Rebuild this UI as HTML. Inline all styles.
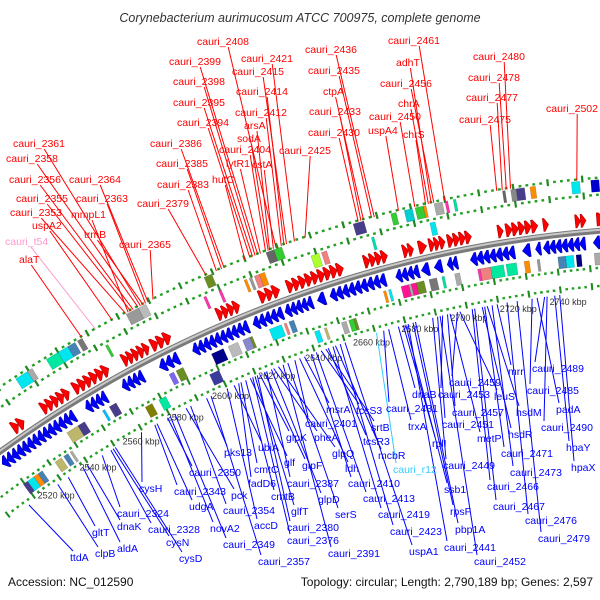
<!DOCTYPE html>
<html><head><meta charset="utf-8"><style>
html,body{margin:0;padding:0;background:#fff}
svg{display:block;font-family:"Liberation Sans",sans-serif}
</style></head><body>
<svg id="map" width="600" height="600" viewBox="0 0 600 600" xmlns="http://www.w3.org/2000/svg">
<rect width="600" height="600" fill="#fff"/>
<text x="300" y="22" text-anchor="middle" font-size="12.5" font-style="italic" fill="#333">Corynebacterium aurimucosum ATCC 700975, complete genome</text>
<text x="8" y="586" font-size="12" fill="#111">Accession: NC_012590</text>
<text x="593" y="586" text-anchor="end" font-size="12" fill="#111">Topology: circular; Length: 2,790,189 bp; Genes: 2,597</text>
<g id="dots"></g><g id="boxes"></g><g id="arrows"></g><g id="backbone"></g><g id="ticks"></g><g id="lines"></g><g id="labels"></g>
</svg>
<script>
const genomeLength = 2790.189;
const tickKbp = [2520,2540,2560,2580,2600,2620,2640,2660,2680,2700,2720,2740];
const fwdSpans = [[2521,2526],[2534,2546],[2548,2563],[2569,2580],[2581,2589],[2608,2617],[2625,2633],[2636,2658],[2666,2675],[2681,2685],[2687,2690],[2691,2697],[2698,2707],[2717,2719],[2720,2732],[2734,2736],[2746,2750],[2754,2757]];
const revSpans = [[2510,2543],[2548,2557],[2564,2573],[2580,2588],[2594,2617],[2619,2631],[2632,2643],[2645,2648],[2650,2672],[2676,2685],[2686,2689],[2691,2694],[2696,2700],[2705,2722],[2725,2728],[2730,2732],[2733,2749],[2752,2757]];
const boxStart = [2515,2518,2532,2537,2545,2550,2554,2558,2566,2578,2583,2606,2609,2612,2622,2624,2626,2628,2633,2636,2648,2652,2666,2671,2680,2685,2689,2692,2693,2696,2700,2703,2721,2724,2726,2731,2746,2753,
 2514,2517,2519,2512,2527,2531,2534,2537,2542,2553,2556,2568,2574,2582,2585,2596,2600,2607,2613,2616,2624,2630,2632,2640,2644,2651,2654,2656,2670,2672,2677,2680,2681,2683,2688,2693,2698,2707,2708,2712,2718,2725,2730,2738,2741,2745,2752];
const boxEnd = [2518,2519,2537,2539,2550,2554,2557,2560,2567,2583,2586,2607,2612,2613,2623,2625,2628,2630,2636,2639,2651,2654,2670,2672,2682,2688,2692,2693,2695,2699,2701,2704,2722,2726,2729,2733,2749,2756,
 2517,2519,2521,2514,2530,2533,2535,2542,2545,2554,2559,2571,2577,2584,2588,2600,2605,2611,2616,2617,2629,2631,2634,2642,2645,2653,2656,2657,2671,2673,2680,2681,2683,2686,2691,2694,2700,2708,2712,2717,2722,2727,2731,2741,2744,2747,2755];
const boxTrack = [2,2,2,2,2,2,2,2,1,2,2,1,2,1,1,1,1,1,2,2,1,1,2,1,2,2,2,2,1,2,2,2,2,2,2,2,2,2,
 -2,-2,-2,-2,-2,-2,-2,-1,-1,-1,-1,-2,-2,-1,-1,-2,-1,-1,-1,-1,-1,-1,-1,-2,-2,-2,-2,-2,-1,-1,-1,-1,-1,-1,-1,-1,-1,-1,-1,-1,-1,-1,-1,-1,-1,-1,-1];
const boxColor = ['#00e0f0','#0000cc','#00e5ee','#aaaaaa','#00e8a0','#00e5ee','#4682b4','#777777','#33cc33','#999999','#bbbbbb','#ff33aa','#6b8e23','#ff33aa','#ff8c00','#999999','#f08080','#ff8c00','#666666','#33cc33','#adff2f','#f08080','#483d8b','#00e0b0','#33cc33','#00ced1','#33cc33','#ff8c00','#00e5ee','#aaaaaa','#ff33aa','#00e0a0','#666666','#888888','#483d8b','#ff8c00','#00e5ee','#0000cc',
 '#00e5ee','#ff8c00','#4682b4','#483d8b','#bdb76b','#4682b4','#aaaaaa','#bdb76b','#483d8b','#00bfff','#483d8b','#808000','#00e8a0','#7b68ee','#6b8e23','#3b3b9b','#00008b','#bbbbbb','#8888cc','#6b8e23','#00e5ee','#f08080','#4682b4','#00e5ee','#bdb76b','#aaaaaa','#33cc33','#6b8e23','#ff8c00','#00e5ee','#ff1493','#aaaaaa','#ff1493','#6b8e23','#777777','#00e0a0','#aaaaaa','#ff33aa','#f08080','#00e8a0','#00e8a0','#ff8c00','#999999','#4682b4','#00e5ee','#000080','#aaaaaa'];
const redNames = ['cauri_2408','cauri_2421','cauri_2399','cauri_2415','cauri_2398','cauri_2414','cauri_2395','cauri_2412','cauri_2394','arsA','sodA','cauri_2386','cauri_2404','cauri_2425','cauri_2385','lytR1','cstA','hutC','cauri_2383','cauri_2379','cauri_2361','cauri_2358','cauri_2356','cauri_2364','cauri_2355','cauri_2363','cauri_2353','mmpL1','uspA2','trmB','cauri_t54','cauri_2365','alaT',
 'cauri_2436','cauri_2461','cauri_2435','adhT','cauri_2480','cauri_2456','cauri_2478','ctpA','chrA','cauri_2477','cauri_2433','cauri_2450','cauri_2502','uspA4','cauri_2430','chrS','cauri_2475'];
const redKbp = [2637,2644,2630,2641,2629,2640,2628,2639,2627,2634.5,2634,2617,2633,2648,2616,2631,2636,2625,2614,2610,2584,2583,2581,2587,2580,2586,2578,2579,2572.6,2585,2565.8,2589,2560,
 2674,2700,2673,2695,2724,2696,2722.5,2670,2694,2721,2669,2689,2748,2683,2668,2693,2719];
const redPos = [[197,41],[241,58],[169,61],[232,71],[173,81],[236,91],[173,102],[235,112],[177,122],[244,125],[237,138],[150,143],[219,149],[279,150],[156,163],[226,163],[252,164],[212,179],[157,184],[137,203],[13,143],[6,158],[9,179],[69,179],[16,198],[76,198],[10,212],[71,214],[32,225],[84,234],[5,241],[119,244],[19,259],
 [305,49],[388,40],[308,70],[396,62],[473,56],[380,83],[468,77],[323,91],[398,103],[466,97],[309,111],[369,116],[546,108],[368,130],[308,132],[403,134],[459,119]];
const blueNames = ['ttdA','clpB','gltT','aldA','dnaK','cauri_2324','cauri_2328','cysN','cysD','cysH','cauri_2343','udgA','cauri_2350','novA2','cauri_2349','pck','cauri_2354','pks13','cauri_2357','accD','ubiA','fadD6','cmtC','cmtB','glf',
 'msrA','tcsS3','cauri_2431','dnaB','cauri_2453','cauri_2459','leuS','mrr','cauri_2489','cauri_2485','cauri_2457','hsdM','padA','cauri_2401','glpK','pheA','srtB','trxA','cauri_2451','cauri_2490','hsdR','metP','tcsR3','rplI','hpaY','glpQ','mcbR','cauri_2471','hpaX','glpF','ldh','cauri_r12','cauri_2449','cauri_2473','cauri_2387','cauri_2410','ssb1','cauri_2466','glpD','cauri_2413','cauri_2467','rpsF','glfT','serS','cauri_2419','cauri_2476','cauri_2380','pbp1A','cauri_2423','cauri_2479','cauri_2376','cauri_2441','cauri_2391','uspA1','cauri_2452'];
const blueKbp = [2509,2523,2528,2535,2537,2544,2548,2549,2550,2562,2568,2569,2573.7,2575,2577,2582,2584,2591,2593,2600,2603,2605,2606,2608,2610,
 2633,2640,2666,2672,2690,2696,2697,2712,2731,2726,2692,2708,2728,2629,2614,2620,2642,2668,2688,2732,2706,2693,2643,2674,2735,2622,2646,2707,2737,2616,2631,2663,2686,2710,2617,2636,2675,2702,2619,2638,2703,2678,2612,2626,2645,2716,2613,2679,2648,2720,2611,2676,2624,2650,2689];
const bluePos = [[70,557],[95,553],[92,532],[117,548],[117,526],[117,513],[148,529],[166,542],[179,558],[139,488],[174,491],[189,506],[189,472],[210,528],[223,544],[231,495],[223,510],[224,452],[258,561],[254,525],[258,447],[248,483],[254,469],[271,496],[284,462],
 [326,409],[356,410],[386,408],[412,394],[438,394],[449,382],[494,396],[508,371],[532,368],[527,390],[452,412],[516,412],[556,409],[305,423],[286,437],[314,437],[371,427],[408,426],[442,424],[541,427],[508,434],[477,438],[363,441],[432,443],[566,447],[332,453],[378,455],[501,453],[571,467],[302,465],[345,468],[393,469],[443,465],[510,472],[287,483],[348,483],[444,489],[487,486],[318,499],[363,498],[493,506],[450,511],[291,511],[335,514],[378,514],[525,520],[287,527],[455,529],[390,531],[538,538],[287,540],[444,547],[328,553],[409,551],[474,561]];

const NS='http://www.w3.org/2000/svg';
const CX=694, CY=1411, R0=1184, RT=1116;
function P(k,r){const t=k/genomeLength*2*Math.PI;return [CX+r*Math.sin(t),CY-r*Math.cos(t)];}
function mk(tag,attrs,parent){const e=document.createElementNS(NS,tag);for(const a in attrs)e.setAttribute(a,attrs[a]);parent.appendChild(e);return e;}
function pts(a){return a.map(p=>p[0].toFixed(1)+','+p[1].toFixed(1)).join(' ');}
const g={};['dots','boxes','arrows','backbone','ticks','lines','labels'].forEach(i=>g[i]=document.getElementById(i));

const bs=P(2490,R0), be=P(2770,R0);
const bb1=mk('path',{d:`M${bs[0]},${bs[1]} A${R0},${R0} 0 0 1 ${be[0]},${be[1]}`,fill:'none',stroke:'#7a7a7a','stroke-width':6},g.backbone);


const bb2=mk('path',{d:`M${bs[0]},${bs[1]-1} A${R0},${R0} 0 0 1 ${be[0]},${be[1]-1}`,fill:'none',stroke:'#c8c8c8','stroke-width':2},g.backbone);



[36,53,-37,-55].forEach(off=>{
  for(let k=2500;k<=2760;k+=2.5){
    const big=(Math.round(k*2)%25===0);
    const h=big?3.5:1.2, w=big?0.4:0.5;
    const q=[P(k-w,R0+off-h),P(k+w,R0+off-h),P(k+w,R0+off+h),P(k-w,R0+off+h)];
    const d=mk('polygon',{points:pts(q),fill:big?'#1f8a1f':'#22a022'},g.dots);
    
    
  }
});

const trackR={1:[20,33],2:[39,51],'-1':[-34,-22],'-2':[-52,-40]};
boxStart.forEach((s,i)=>{
  const e=boxEnd[i], r=trackR[boxTrack[i]];
  const q=[P(s,R0+r[0]),P(e,R0+r[0]),P(e,R0+r[1]),P(s,R0+r[1])];
  const b=mk('polygon',{points:pts(q),fill:boxColor[i],stroke:'rgba(0,0,0,0.25)','stroke-width':0.5},g.boxes);
  
  
});

function drawSpans(spans,fwd,r1,r2,col,edge,name){
  spans.forEach(([s,e])=>{
    const n=Math.max(1,Math.round((e-s)/2.4)), L=(e-s)/n;
    for(let j=0;j<n;j++){
      const a=s+j*L, b=a+L, rm=(r1+r2)/2;
      let q;
      if(fwd){const m=a+L*0.25;q=[P(a,R0+r1),P(m,R0+r1),P(b,R0+rm),P(m,R0+r2),P(a,R0+r2)];}
      else{const m=b-L*0.25;q=[P(b,R0+r1),P(m,R0+r1),P(a,R0+rm),P(m,R0+r2),P(b,R0+r2)];}
      const p=mk('polygon',{points:pts(q),fill:col,stroke:edge,'stroke-width':0.6},g.arrows);
      
      
    }
  });
}
drawSpans(fwdSpans,true,5,18,'#ff0000','#b00000','forward-gene');
drawSpans(revSpans,false,-5,-18,'#0000ff','#0000a0','reverse-gene');

tickKbp.forEach(k=>{
  const p=P(k,RT);
  const t=mk('text',{x:p[0].toFixed(1),y:(p[1]+3).toFixed(1),'text-anchor':'middle','font-size':9,fill:'#333'},g.ticks);
  t.textContent=k+' kbp';
  
  
});

function colorFor(n,def){if(n==='cauri_t54')return '#ff99cc';if(n==='cauri_r12')return '#33ccff';return def;}
redNames.forEach((n,i)=>{
  const [x,cy]=redPos[i], c=colorFor(n,'#ff0000');
  const t=mk('text',{x:x,y:cy+4,'font-size':10.5,fill:c},g.labels);
  t.textContent=n;
  
  
  const w=t.getComputedTextLength();
  const p=P(redKbp[i],R0+52);
  const l=mk('line',{x1:(x+w*0.6).toFixed(1),y1:cy+6,x2:p[0].toFixed(1),y2:p[1].toFixed(1),stroke:c,'stroke-width':1},g.lines);
  
  
});
blueNames.forEach((n,i)=>{
  const [x,cy]=bluePos[i], c=colorFor(n,'#0000ff');
  const t=mk('text',{x:x,y:cy+4,'font-size':10.5,fill:c},g.labels);
  t.textContent=n;
  
  
  const p=P(blueKbp[i],R0-60);
  const l=mk('line',{x1:p[0].toFixed(1),y1:p[1].toFixed(1),x2:x+3,y2:cy-6,stroke:c,'stroke-width':1},g.lines);
  
  
});
</script>
</body></html>
